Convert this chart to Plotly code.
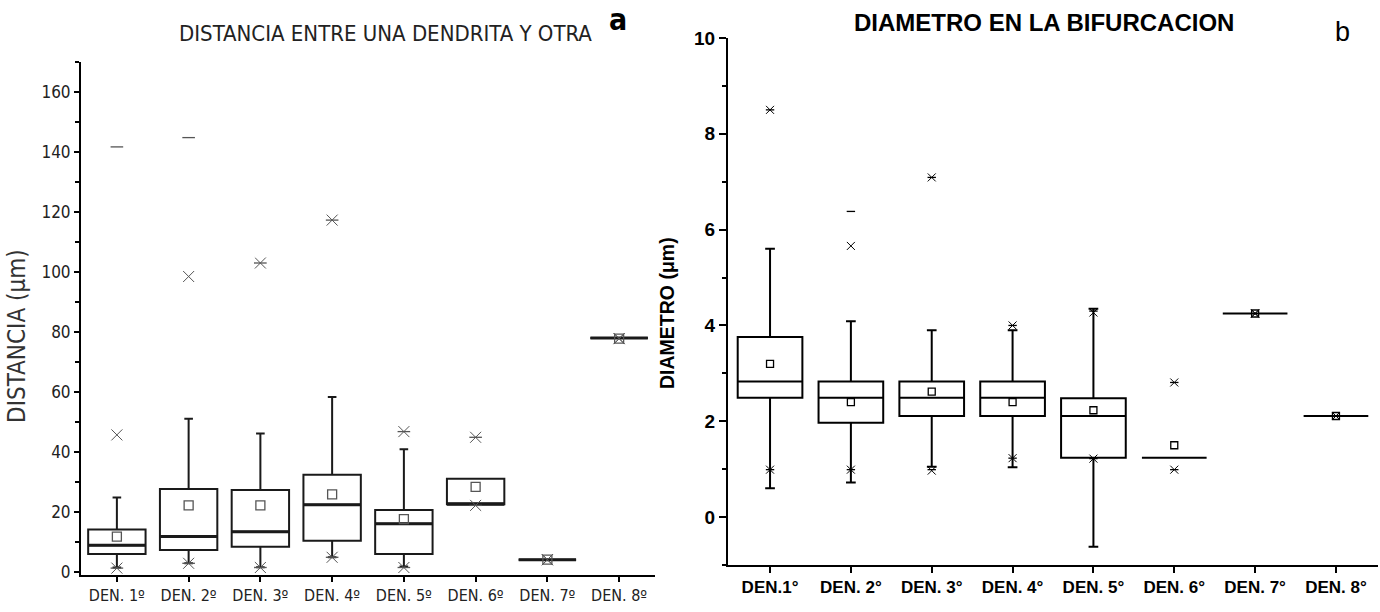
import plotly.graph_objects as go

# ---------------- Panel a: DISTANCIA ENTRE UNA DENDRITA Y OTRA ----------------
cats_a = ["DEN. 1º", "DEN. 2º", "DEN. 3º", "DEN. 4º", "DEN. 5º", "DEN. 6º", "DEN. 7º", "DEN. 8º"]
pos = [1, 2, 3, 4, 5, 6, 7, 8]
q1_a = [6.0, 7.3, 8.4, 10.4, 6.0, 22.6, 4.1, 78.0]
med_a = [8.9, 11.8, 13.4, 22.4, 16.1, 22.6, 4.1, 78.0]
q3_a = [14.2, 27.7, 27.3, 32.4, 20.7, 31.1, 4.1, 78.0]
lo_a = [1.5, 2.9, 1.6, 4.9, 1.8, 22.6, 4.1, 78.0]
hi_a = [24.8, 51.1, 46.2, 58.3, 40.9, 31.1, 4.1, 78.0]
mean_a = [11.8, 22.2, 22.2, 25.9, 17.6, 28.4, 4.1, 77.8]
p99_a = [45.7, 98.5, 103.0, 117.3, 46.8, 44.9, 4.1, 77.8]
p1_a = [1.3, 2.9, 1.5, 4.9, 1.5, 22.2, 4.1, 77.8]
max_a = [141.7, 144.8, 103.0, 117.3, 46.8, 44.9, None, None]
min_a = [1.3, 2.9, 1.5, 4.9, 1.5, 22.2, None, None]

# ---------------- Panel b: DIAMETRO EN LA BIFURCACION ----------------
cats_b = ["DEN.1°", "DEN. 2°", "DEN. 3°", "DEN. 4°", "DEN. 5°", "DEN. 6°", "DEN. 7°", "DEN. 8°"]
q1_b = [2.49, 1.97, 2.11, 2.11, 1.24, 1.24, 4.25, 2.11]
med_b = [2.83, 2.49, 2.49, 2.49, 2.11, 1.24, 4.25, 2.11]
q3_b = [3.76, 2.83, 2.83, 2.83, 2.48, 1.24, 4.25, 2.11]
lo_b = [0.60, 0.72, 1.05, 1.04, -0.62, 1.24, 4.25, 2.11]
hi_b = [5.60, 4.09, 3.90, 3.90, 4.35, 1.24, 4.25, 2.11]
mean_b = [3.20, 2.40, 2.62, 2.40, 2.23, 1.50, 4.25, 2.11]
p99_b = [8.50, 5.66, 7.09, 4.00, 4.27, 2.81, 4.25, 2.11]
p1_b = [0.99, 0.99, 0.97, 1.23, 1.22, 0.99, 4.25, 2.11]
max_b = [8.50, 6.38, 7.09, 4.00, 4.30, 2.81, None, None]
min_b = [0.99, 0.99, 0.99, 1.23, 1.22, 0.99, None, None]

W, H = 1380, 612
NARROW = "Liberation Sans Narrow, Arial Narrow, DejaVu Sans Condensed, sans-serif"
SANS = "Liberation Sans, Arial, sans-serif"

fig = go.Figure()

def add_panel(xa, ya, q1, med, q3, lo, hi, mean, p99, p1, mx, mn, lc, mc, lw, xsize, sqsize, medw):
    fig.add_trace(go.Box(
        x=pos, q1=q1, median=med, q3=q3, lowerfence=lo, upperfence=hi,
        boxpoints=False, width=0.8, whiskerwidth=0.15,
        line=dict(color=lc, width=lw), fillcolor="rgba(255,255,255,0)",
        xaxis=xa, yaxis=ya, showlegend=False, hoverinfo="skip"))
    if medw:
        # thicker median line, drawn as a flat box at the median value
        fig.add_trace(go.Box(
            x=pos, q1=med, median=med, q3=med, lowerfence=med, upperfence=med,
            boxpoints=False, width=0.8, whiskerwidth=0,
            line=dict(color=lc, width=medw), fillcolor="rgba(255,255,255,0)",
            xaxis=xa, yaxis=ya, showlegend=False, hoverinfo="skip"))
    fig.add_trace(go.Scatter(
        x=pos, y=mean, mode="markers", xaxis=xa, yaxis=ya, showlegend=False, hoverinfo="skip",
        marker=dict(symbol="square-open", size=sqsize, color=mc, line=dict(width=1.3, color=mc))))
    for arr in (p99, p1):
        fig.add_trace(go.Scatter(
            x=pos, y=arr, mode="markers", xaxis=xa, yaxis=ya, showlegend=False, hoverinfo="skip",
            marker=dict(symbol="x-thin-open", size=xsize, color=mc, line=dict(width=1, color=mc))))
    for arr in (mx, mn):
        fig.add_trace(go.Scatter(
            x=pos, y=arr, mode="markers", xaxis=xa, yaxis=ya, showlegend=False, hoverinfo="skip",
            marker=dict(symbol="line-ew-open", size=xsize - 2, color=mc, line=dict(width=1.3, color=mc))))

add_panel("x", "y", q1_a, med_a, q3_a, lo_a, hi_a, mean_a, p99_a, p1_a, max_a, min_a,
          "#1a1a1a", "#555555", 2, 11, 9, 3)
add_panel("x2", "y2", q1_b, med_b, q3_b, lo_b, hi_b, mean_b, p99_b, p1_b, max_b, min_b,
          "#000000", "#000000", 2, 8, 7, 0)

def px_x(p):
    return p / W

def px_y(p):
    return 1 - p / H

axis_common = dict(showgrid=False, zeroline=False, showline=True, linecolor="black",
                   ticks="outside", tickcolor="black", automargin=False)

fig.update_layout(
    width=W, height=H, template="none",
    margin=dict(l=0, r=0, t=0, b=0),
    paper_bgcolor="white", plot_bgcolor="white",
    showlegend=False,
    xaxis=dict(domain=[px_x(81), px_x(655)], range=[0.5, 8.5], anchor="y",
               tickvals=pos, ticktext=cats_a, linewidth=2, ticklen=5, tickwidth=1.5,
               tickfont=dict(family=NARROW, size=16, color="#222"), **axis_common),
    yaxis=dict(domain=[px_y(575), px_y(62)], range=[-1, 170], anchor="x",
               tickvals=[0, 20, 40, 60, 80, 100, 120, 140, 160], linewidth=2, ticklen=5, tickwidth=1.5,
               minor=dict(dtick=10, tick0=0, ticks="outside", ticklen=4, tickcolor="black", tickwidth=1.5),
               tickfont=dict(family=NARROW, size=17, color="#222"), **axis_common),
    xaxis2=dict(domain=[px_x(728), px_x(1378)], range=[0.48, 8.52], anchor="y2",
                tickvals=pos, ticktext=cats_b, linewidth=2, ticklen=6, tickwidth=1.5,
                tickfont=dict(family=SANS, size=17, color="black", weight="bold"), **axis_common),
    yaxis2=dict(domain=[px_y(565), px_y(38)], range=[-1, 10], anchor="x2",
                tickvals=[0, 2, 4, 6, 8, 10], linewidth=2, ticklen=7, tickwidth=1.5,
                minor=dict(dtick=1, tick0=0, ticks="outside", ticklen=4, tickcolor="black", tickwidth=1.5),
                tickfont=dict(family=SANS, size=19, color="black", weight="bold"), **axis_common),
    annotations=[
        dict(text="DISTANCIA ENTRE UNA DENDRITA Y OTRA", xref="paper", yref="paper",
             x=px_x(385), y=px_y(33), xanchor="center", yanchor="middle", showarrow=False,
             font=dict(family=NARROW, size=22, color="#222")),
        dict(text="<b>a</b>", xref="paper", yref="paper", x=px_x(618), y=px_y(20),
             xanchor="center", yanchor="middle", showarrow=False,
             font=dict(family=NARROW, size=30, color="black")),
        dict(text="DISTANCIA (μm)", xref="paper", yref="paper", x=px_x(17), y=px_y(336),
             xanchor="center", yanchor="middle", showarrow=False, textangle=-90,
             font=dict(family=NARROW, size=24, color="#333")),
        dict(text="<b>DIAMETRO EN LA BIFURCACION</b>", xref="paper", yref="paper",
             x=px_x(1044), y=px_y(23), xanchor="center", yanchor="middle", showarrow=False,
             font=dict(family=SANS, size=24, color="black")),
        dict(text="b", xref="paper", yref="paper", x=px_x(1342), y=px_y(32),
             xanchor="center", yanchor="middle", showarrow=False,
             font=dict(family=SANS, size=27, color="black")),
        dict(text="<b>DIAMETRO (μm)</b>", xref="paper", yref="paper", x=px_x(667), y=px_y(313),
             xanchor="center", yanchor="middle", showarrow=False, textangle=-90,
             font=dict(family=SANS, size=19.5, color="black")),
    ],
)

fig.write_html("out.html", config={"displayModeBar": False},
               post_script="document.body.style.margin='0px';")
